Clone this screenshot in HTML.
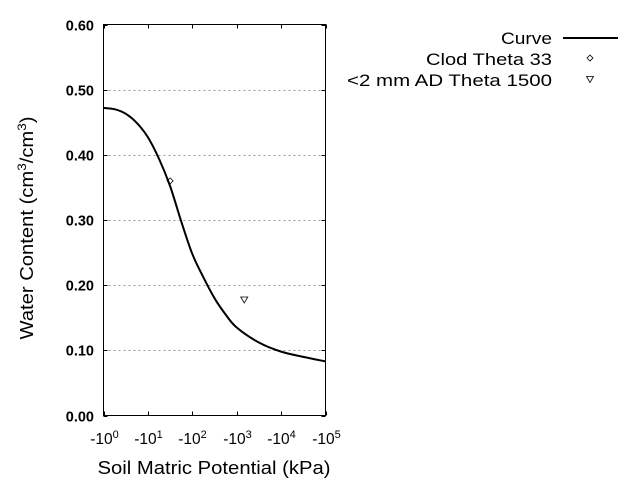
<!DOCTYPE html>
<html><head><meta charset="utf-8"><style>
body{margin:0;background:#fff;}
svg{display:block;font-family:"Liberation Sans",Arial,sans-serif;}
</style></head><body>
<svg id="chart" width="640" height="480" viewBox="0 0 640 480" xmlns="http://www.w3.org/2000/svg">
<g id="grid"></g>
<g id="yticks"></g>
<g id="xticks"></g>
<path id="curve" fill="none" stroke="#000" stroke-width="2"/>
<g id="pts"></g>
<rect x="103.5" y="24.5" width="222" height="391" fill="none" stroke="#000" stroke-width="1"/>
<text x="0" y="0" transform="translate(33,228) rotate(-90)" text-anchor="middle" font-size="18" textLength="223" lengthAdjust="spacingAndGlyphs">Water Content (cm<tspan baseline-shift="super" font-size="12">3</tspan>/cm<tspan baseline-shift="super" font-size="12">3</tspan>)</text>
<text x="214" y="474" text-anchor="middle" font-size="18" textLength="233" lengthAdjust="spacingAndGlyphs">Soil Matric Potential (kPa)</text>
<g>
<text x="552" y="44" text-anchor="end" font-size="17" textLength="51" lengthAdjust="spacingAndGlyphs">Curve</text>
<line x1="563" y1="38" x2="618" y2="38" stroke="#000" stroke-width="2"/>
<text x="552" y="65" text-anchor="end" font-size="17" textLength="126" lengthAdjust="spacingAndGlyphs">Clod Theta 33</text>
<path d="M590,55 L593,58 L590,61 L587,58 Z" fill="none" stroke="#000" stroke-width="0.8"/>
<text x="552" y="86" text-anchor="end" font-size="17" textLength="205" lengthAdjust="spacingAndGlyphs">&lt;2 mm AD Theta 1500</text>
<path d="M586.5,76.5 L593.5,76.5 L590,82.5 Z" fill="none" stroke="#000" stroke-width="0.8"/>
</g>
</svg>
<script>
const curveLogP = [0, 0.25, 0.5, 0.75, 1.0, 1.25, 1.5, 1.75, 2.0, 2.25, 2.5, 2.75, 3.0, 3.5, 4.0, 4.5, 5.0];
const curveTheta = [0.472, 0.470, 0.463, 0.449, 0.427, 0.394, 0.352, 0.298, 0.248, 0.212, 0.180, 0.155, 0.135, 0.112, 0.098, 0.090, 0.083];
const pointLogP = [1.5, 3.17];
const pointTheta = [0.360, 0.178];
const yTicks = [0, 0.1, 0.2, 0.3, 0.4, 0.5, 0.6];
const yTickLabels = ["0.00","0.10","0.20","0.30","0.40","0.50","0.60"];
const xTicks = [0,1,2,3,4,5];

const X0=103.5, X1=325.5, Y0=415.5, Y1=24.5;
const sx = v => X0 + (v-0)/(5-0)*(X1-X0);
const sy = v => Y0 - v/0.6*(Y0-Y1);
const NS="http://www.w3.org/2000/svg";
function mk(tag, attrs, parent){const e=document.createElementNS(NS,tag);for(const k in attrs)e.setAttribute(k,attrs[k]);parent.appendChild(e);return e;}

const grid=document.getElementById('grid'), yt=document.getElementById('yticks'), xt=document.getElementById('xticks');
yTicks.forEach((v,i)=>{
  const y=Math.round(sy(v))+0.5;
  if(v>0 && v<0.6){
    const g=mk('line',{x1:X0,x2:X1,y1:y,y2:y,stroke:'#999','stroke-dasharray':'2,3','stroke-width':1},grid);
    
    
  }
  const t1=mk('line',{x1:X0,x2:X0+4,y1:y,y2:y,stroke:'#000'},yt);
  
  
  const t2=mk('line',{x1:X1-4,x2:X1,y1:y,y2:y,stroke:'#000'},yt);
  
  
  const tx=mk('text',{x:94,y:y+5,'text-anchor':'end','font-size':14.5,'font-weight':'bold'},yt);
  tx.textContent=yTickLabels[i];
  
  
});
xTicks.forEach(v=>{
  const x=Math.round(sx(v))+0.5;
  const t1=mk('line',{x1:x,x2:x,y1:Y0,y2:Y0-4,stroke:'#000'},xt);
  
  
  const t2=mk('line',{x1:x,x2:x,y1:Y1,y2:Y1+4,stroke:'#000'},xt);
  
  
  const tx=mk('text',{x:x,y:444,'text-anchor':'middle','font-size':15.5},xt);
  tx.innerHTML='-10<tspan baseline-shift="super" font-size="11">'+v+'</tspan>';
  
  
});
const P=curveLogP.map((v,i)=>[sx(v),sy(curveTheta[i])]);
let d='M'+P[0][0]+','+P[0][1];
for(let i=0;i<P.length-1;i++){
  const p0=P[Math.max(0,i-1)],p1=P[i],p2=P[i+1],p3=P[Math.min(P.length-1,i+2)];
  const c1=[p1[0]+(p2[0]-p0[0])/6,p1[1]+(p2[1]-p0[1])/6];
  const c2=[p2[0]-(p3[0]-p1[0])/6,p2[1]-(p3[1]-p1[1])/6];
  d+=` C${c1[0]},${c1[1]} ${c2[0]},${c2[1]} ${p2[0]},${p2[1]}`;
}
document.getElementById('curve').setAttribute('d',d);
const pts=document.getElementById('pts');
pointLogP.forEach((v,i)=>{
  const x=sx(v), y=sy(pointTheta[i]);
  let dd = i===0 ? `M${x},${y-3} L${x+3},${y} L${x},${y+3} L${x-3},${y} Z`
                 : `M${x-3.5},${y-2.5} L${x+3.5},${y-2.5} L${x},${y+3.5} Z`;
  const m=mk('path',{d:dd,fill:'none',stroke:'#000','stroke-width':0.8},pts);
  
  
});
</script>
</body></html>
